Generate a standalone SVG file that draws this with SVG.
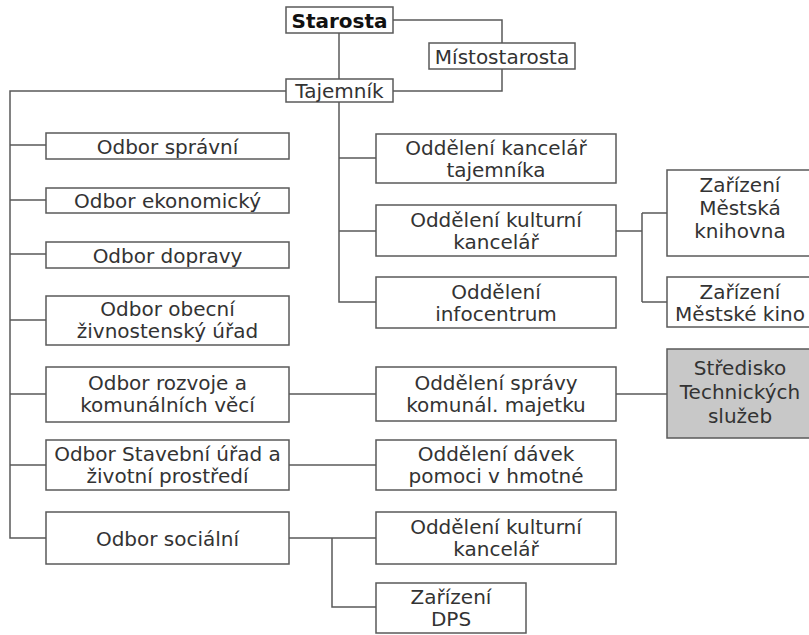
<svg xmlns="http://www.w3.org/2000/svg" width="809" height="635" viewBox="0 0 809 635">
  <style>
    .box { fill: #ffffff; stroke: #5a5a5a; stroke-width: 1.5; }
    .shade { fill: #c8c8c8; }
    .lbl { font-family: "DejaVu Sans", Verdana, sans-serif; font-size: 20px; fill: #333333; text-anchor: middle; }
    .bold { font-weight: bold; fill: #111111; }
    .wire { fill: none; stroke: #5a5a5a; stroke-width: 1.5; }
  </style>
  <rect width="809" height="635" fill="#ffffff"/>

  <!-- connectors -->
  <g id="connectors">
    <path class="wire" d="M339,33 V79"/>
    <path class="wire" d="M393,20 H502 V43"/>
    <path class="wire" d="M502,69 V91 H393"/>
    <path class="wire" d="M286,91 H10 V538 H46"/>
    <path class="wire" d="M10,145 H46 M10,200 H46 M10,254 H46 M10,320 H46 M10,394 H46 M10,465 H46"/>
    <path class="wire" d="M339,102 V302 H376 M339,158 H376 M339,231 H376"/>
    <path class="wire" d="M616,231 H642 M642,213 V302 M642,213 H667 M642,302 H667"/>
    <path class="wire" d="M289,394 H376 M616,394 H667"/>
    <path class="wire" d="M289,465 H376"/>
    <path class="wire" d="M289,538 H376 M332,538 V607 H376"/>
  </g>

  <!-- top management -->
  <g id="starosta">
    <rect class="box" x="286" y="7" width="107" height="26"/>
    <text class="lbl bold" x="339.5" y="28">Starosta</text>
  </g>
  <g id="mistostarosta">
    <rect class="box" x="429" y="43" width="146" height="26"/>
    <text class="lbl" x="502" y="64">Místostarosta</text>
  </g>
  <g id="tajemnik">
    <rect class="box" x="286" y="79" width="107" height="23"/>
    <text class="lbl" x="339.5" y="98">Tajemník</text>
  </g>

  <!-- departments (left column) -->
  <g id="odbor-spravni">
    <rect class="box" x="46" y="133" width="243" height="26"/>
    <text class="lbl" x="167.5" y="154">Odbor správní</text>
  </g>
  <g id="odbor-ekonomicky">
    <rect class="box" x="46" y="188" width="243" height="25"/>
    <text class="lbl" x="167.5" y="208">Odbor ekonomický</text>
  </g>
  <g id="odbor-dopravy">
    <rect class="box" x="46" y="242" width="243" height="26"/>
    <text class="lbl" x="167.5" y="263">Odbor dopravy</text>
  </g>
  <g id="odbor-obecni">
    <rect class="box" x="46" y="296" width="243" height="49"/>
    <text class="lbl" x="167.5" y="316">Odbor obecní</text>
    <text class="lbl" x="167.5" y="338">živnostenský úřad</text>
  </g>
  <g id="odbor-rozvoje">
    <rect class="box" x="46" y="367" width="243" height="55"/>
    <text class="lbl" x="167.5" y="390">Odbor rozvoje a</text>
    <text class="lbl" x="167.5" y="412">komunálních věcí</text>
  </g>
  <g id="odbor-stavebni">
    <rect class="box" x="46" y="440" width="243" height="50"/>
    <text class="lbl" x="167.5" y="461">Odbor Stavební úřad a</text>
    <text class="lbl" x="167.5" y="483">životní prostředí</text>
  </g>
  <g id="odbor-socialni">
    <rect class="box" x="46" y="512" width="243" height="52"/>
    <text class="lbl" x="167.5" y="546">Odbor sociální</text>
  </g>

  <!-- sections (middle column) -->
  <g id="oddeleni-kancelar">
    <rect class="box" x="376" y="134" width="240" height="49"/>
    <text class="lbl" x="496" y="155">Oddělení kancelář</text>
    <text class="lbl" x="496" y="177">tajemníka</text>
  </g>
  <g id="oddeleni-kulturni">
    <rect class="box" x="376" y="205" width="240" height="51"/>
    <text class="lbl" x="496" y="227">Oddělení kulturní</text>
    <text class="lbl" x="496" y="249">kancelář</text>
  </g>
  <g id="oddeleni-infocentrum">
    <rect class="box" x="376" y="277" width="240" height="51"/>
    <text class="lbl" x="496" y="299">Oddělení</text>
    <text class="lbl" x="496" y="321">infocentrum</text>
  </g>
  <g id="oddeleni-spravy">
    <rect class="box" x="376" y="367" width="240" height="54"/>
    <text class="lbl" x="496" y="390">Oddělení správy</text>
    <text class="lbl" x="496" y="412">komunál. majetku</text>
  </g>
  <g id="oddeleni-davek">
    <rect class="box" x="376" y="440" width="240" height="50"/>
    <text class="lbl" x="496" y="461">Oddělení dávek</text>
    <text class="lbl" x="496" y="483">pomoci v hmotné</text>
  </g>
  <g id="oddeleni-kulturni-2">
    <rect class="box" x="376" y="512" width="240" height="52"/>
    <text class="lbl" x="496" y="534">Oddělení kulturní</text>
    <text class="lbl" x="496" y="556">kancelář</text>
  </g>
  <g id="zarizeni-dps">
    <rect class="box" x="376" y="583" width="150" height="50"/>
    <text class="lbl" x="451" y="604">Zařízení</text>
    <text class="lbl" x="451" y="626">DPS</text>
  </g>

  <!-- facilities (right column) -->
  <g id="zarizeni-knihovna">
    <rect class="box" x="667" y="170" width="150" height="86"/>
    <text class="lbl" x="740" y="192">Zařízení</text>
    <text class="lbl" x="740" y="215">Městská</text>
    <text class="lbl" x="740" y="238">knihovna</text>
  </g>
  <g id="zarizeni-kino">
    <rect class="box" x="667" y="277" width="150" height="50"/>
    <text class="lbl" x="740" y="299">Zařízení</text>
    <text class="lbl" x="740" y="321">Městské kino</text>
  </g>
  <g id="stredisko">
    <rect class="box shade" x="667" y="349" width="150" height="89"/>
    <text class="lbl" x="740" y="375">Středisko</text>
    <text class="lbl" x="740" y="399">Technických</text>
    <text class="lbl" x="740" y="423">služeb</text>
  </g>
</svg>
